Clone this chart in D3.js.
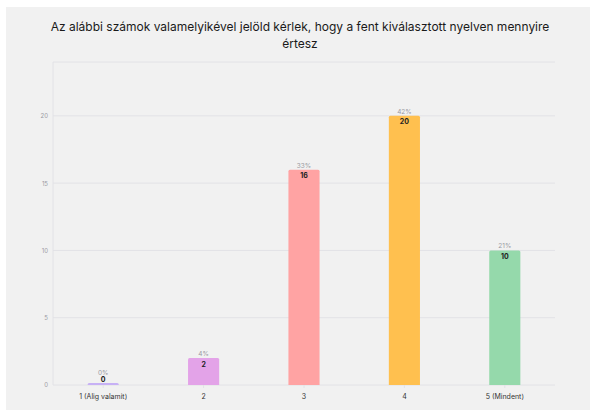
<!DOCTYPE html>
<html>
<head>
<meta charset="utf-8">
<style>
  body { margin: 0; background: #fff; }
  svg { display: block; font-family: "Inter", "Roboto", sans-serif; }
</style>
</head>
<body>
<div id="chart"></div>
<script src="https://d3js.org/d3.v7.min.js"></script>
<script>
  // chart data
  var categories = ["1 (Alig valamit)", "2", "3", "4", "5 (Mindent)"];
  var counts = [0, 2, 16, 20, 10];
  var percents = ["0%", "4%", "33%", "42%", "21%"];
  var colors = ["#c7b1f5", "#e3a3e8", "#ffa3a3", "#ffc04f", "#95d9ab"];
  var yTicks = [0, 5, 10, 15, 20];
  var titleLines = ["Az alábbi számok valamelyikével jelöld kérlek, hogy a fent kiválasztott nyelven mennyire", "értesz"];

  var W = 590, H = 410;
  var margin = { top: 62, right: 35, bottom: 25, left: 53 },
    width = W - margin.left - margin.right,
    height = H - margin.top - margin.bottom;

  var svg = d3.select("#chart").append("svg")
    .attr("width", W)
    .attr("height", H);

  // gray panel
  svg.append("rect")
    .attr("x", 6).attr("y", 7)
    .attr("width", W - 6).attr("height", H - 7)
    .attr("fill", "#f1f1f1");

  // title
  svg.append("text")
    .attr("x", 300)
    .attr("y", 31)
    .attr("text-anchor", "middle")
    .style("font-size", "12px")
    .style("fill", "#1a1a1a")
    .selectAll("tspan")
    .data(titleLines)
    .enter().append("tspan")
    .attr("x", 300)
    .attr("dy", function(d, i) { return i ? 17 : 0; })
    .text(function(d) { return d; });

  var x = d3.scaleBand()
    .domain(categories)
    .range([0, width])
    .paddingInner(0.69)
    .paddingOuter(0.345);

  var y = d3.scaleLinear()
    .domain([0, 24])
    .range([height, 0]);

  var g = svg.append("g")
    .attr("transform", "translate(" + margin.left + "," + margin.top + ")");

  // gridlines
  g.selectAll(".grid")
    .data(yTicks.concat([24]))
    .enter().append("line")
    .attr("x1", 0).attr("x2", width)
    .attr("y1", function(d) { return y(d); })
    .attr("y2", function(d) { return y(d); })
    .attr("stroke", "#e2e2e6")
    .attr("stroke-width", 1);

  // left axis line
  g.append("line")
    .attr("x1", 0).attr("x2", 0)
    .attr("y1", 0).attr("y2", height)
    .attr("stroke", "#e2e2e6");

  // y axis
  var yAxis = g.append("g")
    .call(d3.axisLeft(y).tickValues(yTicks).tickSize(0).tickPadding(5));
  yAxis.select(".domain").remove();
  yAxis.selectAll("text")
    .style("font-size", "6px")
    .style("fill", "#9a9aa2")
    .style("font-family", "Inter, Roboto, sans-serif");

  // x axis
  var xAxis = g.append("g")
    .attr("transform", "translate(0," + height + ")")
    .call(d3.axisBottom(x).tickSize(3).tickPadding(6));
  xAxis.select(".domain").remove();
  xAxis.selectAll(".tick line").attr("stroke", "#e2e2e6");
  xAxis.selectAll("text")
    .style("font-size", "7px")
    .style("fill", "#333")
    .style("font-family", "Inter, Roboto, sans-serif");

  var data = categories.map(function(c, i) {
    return { cat: c, value: counts[i], pct: percents[i], color: colors[i] };
  });

  // bars (value 0 still gets a thin line)
  g.selectAll(".bar")
    .data(data)
    .enter().append("path")
    .attr("class", "bar")
    .attr("fill", function(d) { return d.color; })
    .attr("d", function(d) {
      var x0 = x(d.cat), w = x.bandwidth();
      var top = Math.min(y(d.value), height - 2);
      var r = Math.min(1.5, height - top);
      return "M" + x0 + "," + height +
        "V" + (top + r) +
        "Q" + x0 + "," + top + " " + (x0 + r) + "," + top +
        "H" + (x0 + w - r) +
        "Q" + (x0 + w) + "," + top + " " + (x0 + w) + "," + (top + r) +
        "V" + height + "Z";
    });

  // percent labels
  g.selectAll(".pct")
    .data(data)
    .enter().append("text")
    .attr("x", function(d) { return x(d.cat) + x.bandwidth() / 2; })
    .attr("y", function(d) { return y(d.value) - (d.value ? 2 : 10); })
    .attr("text-anchor", "middle")
    .style("font-size", "6.5px")
    .style("fill", "#9a9aa2")
    .text(function(d) { return d.pct; });

  // count labels
  g.selectAll(".cnt")
    .data(data)
    .enter().append("text")
    .attr("x", function(d) { return x(d.cat) + x.bandwidth() / 2; })
    .attr("y", function(d) { return y(d.value) + (d.value ? 6 : -5); })
    .attr("dy", "0.35em")
    .attr("text-anchor", "middle")
    .style("font-size", "7px")
    .style("font-weight", "bold")
    .style("fill", "#222")
    .text(function(d) { return d.value; });
</script>
</body>
</html>
